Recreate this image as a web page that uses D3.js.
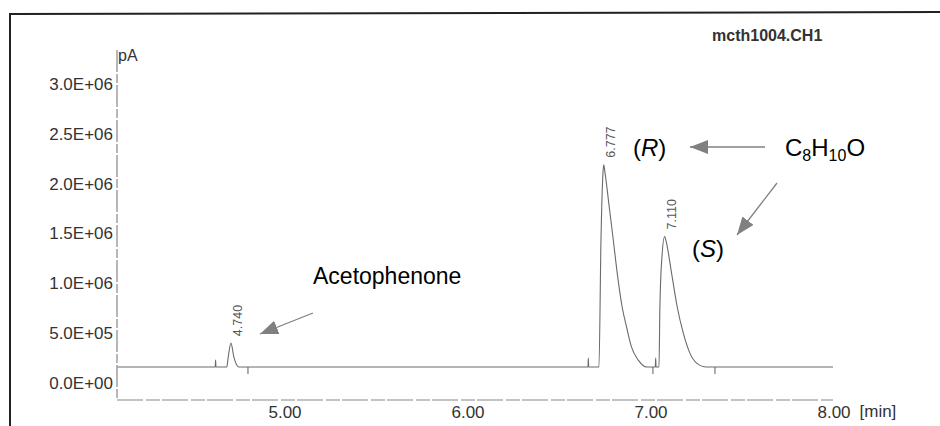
<!DOCTYPE html>
<html>
<head>
<meta charset="utf-8">
<script src="https://cdn.jsdelivr.net/npm/d3@7"></script>
<style>
  body { margin: 0; background: #fff; }
  svg { display: block; font-family: "Liberation Sans", Arial, sans-serif; }
</style>
</head>
<body>
<div id="chart"></div>
<script>
// y axis ticks (pA)
var yTicks = [0, 0.5e6, 1.0e6, 1.5e6, 2.0e6, 2.5e6, 3.0e6],
    yTickLabels = ["0.0E+00", "5.0E+05", "1.0E+06", "1.5E+06", "2.0E+06", "2.5E+06", "3.0E+06"];

// x axis ticks (min)
var xTicks = [5, 6, 7, 8],
    xTickLabels = ["5.00", "6.00", "7.00", "8.00"];

// detector trace
var traceTime = [4.12, 4.654, 4.656, 4.658, 4.717, 4.725, 4.740, 4.756, 4.784,
    6.691, 6.693, 6.695, 6.751, 6.762, 6.773, 6.777, 6.784, 6.807, 6.829, 6.851,
    6.878, 6.902, 6.929, 6.966, 7.012, 7.059, 7.061, 7.063, 7.079, 7.084, 7.095,
    7.110, 7.117, 7.148, 7.179, 7.212, 7.248, 7.285, 7.339, 8.03];
var traceSignal = [0.16e6, 0.16e6, 0.23e6, 0.16e6, 0.16e6, 0.26e6, 0.40e6, 0.26e6, 0.16e6,
    0.16e6, 0.25e6, 0.16e6, 0.16e6, 1.43e6, 2.11e6, 2.19e6, 2.11e6, 1.77e6, 1.44e6, 1.10e6,
    0.76e6, 0.56e6, 0.36e6, 0.23e6, 0.16e6, 0.16e6, 0.25e6, 0.16e6, 0.16e6, 0.76e6, 1.26e6,
    1.47e6, 1.43e6, 1.10e6, 0.76e6, 0.50e6, 0.30e6, 0.20e6, 0.16e6, 0.16e6];

// peak apex labels
var peakTimes = [4.740, 6.777, 7.110],
    peakHeights = [0.40e6, 2.19e6, 1.47e6],
    peakLabels = ["4.740", "6.777", "7.110"];

// integration event marks under the baseline
var eventTimes = [4.833, 7.046, 7.385],
    baselineLevel = 0.16e6;

var width = 940, height = 426;
var grey = "#808080", ink = "#6a6a6a";

var svg = d3.select("#chart").append("svg")
    .attr("width", width)
    .attr("height", height);

var defs = svg.append("defs");
defs.append("marker")
    .attr("id", "head")
    .attr("markerUnits", "userSpaceOnUse")
    .attr("markerWidth", 20)
    .attr("markerHeight", 16)
    .attr("refX", 18)
    .attr("refY", 7)
    .attr("orient", "auto")
  .append("path")
    .attr("d", "M0,0 L18,7 L0,14 Z")
    .attr("fill", grey);

// page frame
svg.append("line").attr("x1", 10).attr("y1", 14).attr("x2", 940).attr("y2", 12)
    .attr("stroke", "#222").attr("stroke-width", 2);
svg.append("line").attr("x1", 10).attr("y1", 13).attr("x2", 10).attr("y2", 426)
    .attr("stroke", "#222").attr("stroke-width", 2);

var x = d3.scaleLinear().domain([4.12, 8.03]).range([117.5, 833]);
var y = d3.scaleLinear().domain([0, 3e6]).range([383, 84]);

// axis lines
svg.append("line").attr("x1", 117).attr("y1", 50).attr("x2", 117).attr("y2", 400)
    .attr("stroke", "#888").attr("stroke-width", 1.2).attr("stroke-dasharray", "22,2,9,2");
svg.append("line").attr("x1", 117).attr("y1", 400).attr("x2", 833).attr("y2", 400)
    .attr("stroke", "#888").attr("stroke-width", 1.2).attr("stroke-dasharray", "26,3,14,2");

var yAxis = d3.axisLeft(y)
    .tickValues(yTicks)
    .tickSize(0)
    .tickPadding(4)
    .tickFormat(function (d, i) { return yTickLabels[i]; });
var gy = svg.append("g").attr("transform", "translate(117,0)").call(yAxis);
gy.select(".domain").remove();
gy.selectAll("text").attr("font-size", 17).attr("fill", "#333")
    .attr("font-family", "Liberation Sans, Arial, sans-serif");

var xAxis = d3.axisBottom(x)
    .tickValues(xTicks)
    .tickSize(0)
    .tickPadding(6)
    .tickFormat(function (d, i) { return xTickLabels[i]; });
var gx = svg.append("g").attr("transform", "translate(0,400)").call(xAxis);
gx.select(".domain").remove();
gx.selectAll("text").attr("font-size", 17).attr("fill", "#333").attr("dx", 6)
    .attr("font-family", "Liberation Sans, Arial, sans-serif");

svg.append("text")
    .attr("x", x(8) + 32).attr("y", 417)
    .attr("font-size", 17).attr("fill", "#333")
    .text("[min]");

svg.append("text")
    .attr("x", 118).attr("y", 61)
    .attr("font-size", 16).attr("fill", "#333")
    .text("pA");

svg.append("text")
    .attr("x", 712).attr("y", 41)
    .attr("font-size", 16).attr("font-weight", "bold").attr("fill", "#333")
    .text("mcth1004.CH1");

// trace
var pts = traceTime.map(function (t, i) { return [t, traceSignal[i]]; });
var line = d3.line()
    .x(function (d) { return x(d[0]); })
    .y(function (d) { return y(d[1]); })
    .curve(d3.curveMonotoneX);
svg.append("path")
    .datum(pts)
    .attr("d", line)
    .attr("fill", "none")
    .attr("stroke", ink)
    .attr("stroke-width", 1.1);

svg.selectAll(".evt")
    .data(eventTimes)
  .enter().append("line")
    .attr("class", "evt")
    .attr("x1", function (d) { return x(d); })
    .attr("x2", function (d) { return x(d); })
    .attr("y1", y(baselineLevel))
    .attr("y2", y(baselineLevel) + 7)
    .attr("stroke", ink)
    .attr("stroke-width", 1.1);

svg.selectAll(".plab")
    .data(peakTimes)
  .enter().append("text")
    .attr("class", "plab")
    .attr("transform", function (d, i) {
        return "translate(" + (x(d) + 11) + "," + (y(peakHeights[i]) - 7) + ") rotate(-90)";
    })
    .attr("font-size", 12.5)
    .attr("fill", "#555")
    .text(function (d, i) { return peakLabels[i]; });

// annotations
var arrows = [
    [313, 313, 260, 334],
    [765, 147, 690, 147],
    [777, 183, 737, 235]
];
svg.selectAll(".arr")
    .data(arrows)
  .enter().append("line")
    .attr("class", "arr")
    .attr("x1", function (d) { return d[0]; })
    .attr("y1", function (d) { return d[1]; })
    .attr("x2", function (d) { return d[2]; })
    .attr("y2", function (d) { return d[3]; })
    .attr("stroke", grey)
    .attr("stroke-width", 1.3)
    .attr("marker-end", "url(#head)");

svg.append("text")
    .attr("x", 313).attr("y", 284)
    .attr("font-size", 23)
    .text("Acetophenone");

var r = svg.append("text").attr("x", 633).attr("y", 156).attr("font-size", 24);
r.append("tspan").text("(");
r.append("tspan").attr("font-style", "italic").text("R");
r.append("tspan").text(")");

var s = svg.append("text").attr("x", 692).attr("y", 257).attr("font-size", 24);
s.append("tspan").text("(");
s.append("tspan").attr("font-style", "italic").text("S");
s.append("tspan").text(")");

var f = svg.append("text").attr("x", 785).attr("y", 156).attr("font-size", 24);
f.append("tspan").text("C");
f.append("tspan").attr("font-size", 16).attr("dy", 5).text("8");
f.append("tspan").attr("dy", -5).text("H");
f.append("tspan").attr("font-size", 16).attr("dy", 5).text("10");
f.append("tspan").attr("dy", -5).text("O");
</script>
</body>
</html>
